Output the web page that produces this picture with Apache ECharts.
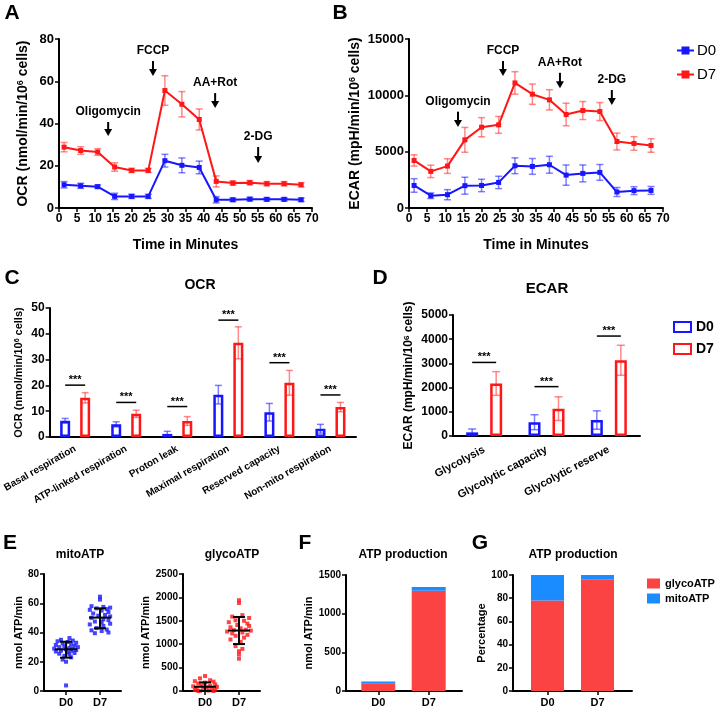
<!DOCTYPE html>
<html><head><meta charset="utf-8">
<script src="https://cdn.jsdelivr.net/npm/echarts@6/dist/echarts.min.js"></script>
<style>html,body{margin:0;padding:0;background:#fff}#c{width:721px;height:708px}</style>
</head><body><div id="c"></div>
<script>
const FONT = '"Liberation Sans", Arial, sans-serif';
// ---- Panel A (OCR time course) ----
const timesA = [1.4,6.0,10.7,15.4,20.1,24.7,29.3,34.0,38.8,43.5,48.1,52.8,57.5,62.3,67.0];
const ocrD0 = [11.0,10.5,10.1,5.5,5.5,5.5,22.4,20.2,19.2,3.9,3.9,4.2,4.1,4.1,3.9];
const ocrD0err = [1.5,1.2,0.8,1.5,1.0,1.0,3.0,3.5,3.0,1.5,0.8,0.8,0.8,0.8,0.8];
const ocrD7 = [28.8,27.2,26.5,19.4,17.8,17.8,55.6,49.1,41.9,12.6,11.8,12.0,11.5,11.5,11.0];
const ocrD7err = [2.2,1.8,1.6,2.0,1.0,1.0,7.0,6.0,5.0,2.6,1.0,1.0,1.0,1.0,1.0];
// ---- Panel B (ECAR time course) ----
const timesB = [1.4,6.0,10.6,15.4,20.0,24.7,29.2,34.0,38.7,43.3,47.9,52.6,57.3,62.0,66.7];
const ecarD0 = [2000,1090,1180,1980,2000,2270,3750,3690,3840,2920,3070,3160,1420,1540,1560];
const ecarD0err = [600,250,450,750,550,550,700,700,750,900,750,700,400,350,350];
const ecarD7 = [4220,3250,3720,6050,7170,7380,11100,10100,9600,8300,8650,8560,5900,5730,5550];
const ecarD7err = [500,550,650,1100,850,750,1000,900,900,1000,800,800,750,600,600];
// injections
const injectNames = ['Oligomycin','FCCP','AA+Rot','2-DG'];
const injectA_x = [13.6,26.0,43.2,55.1];
const injectA_top = [40.7,69.6,54.4,28.9];
const injectA_tip = [34.1,62.5,47.3,21.3];
const injectB_x = [13.5,25.9,41.6,55.9];
const injectB_top = [8550,13050,12000,10470];
const injectB_tip = [7190,11720,10620,9140];
// ---- Panel C ----
const ocrCats = ['Basal respiration','ATP-linked respiration','Proton leak','Maximal respiration','Reserved capacity','Non-mito respiration'];
const ocrBarD0 = [6.3,4.9,1.2,16.4,9.6,3.2];
const ocrBarD0err = [0.9,1.0,1.0,3.6,3.4,1.7];
const ocrBarD7 = [15.2,9.0,6.2,36.5,21.0,11.6];
const ocrBarD7err = [2.0,1.4,1.7,6.2,4.8,1.8];
const ocrSig = [20.1,13.4,11.8,45.3,28.8,16.3];
// ---- Panel D ----
const ecarCats = ['Glycolysis','Glycolytic capacity','Glycolytic reserve'];
const ecarBarD0 = [150,570,660];
const ecarBarD0err = [140,310,380];
const ecarBarD7 = [2170,1130,3130];
const ecarBarD7err = [490,490,620];
const ecarSig = [3040,2040,4130];
// ---- Panel E ----
const groups = ['D0','D7'];
const mitoD0 = [36.2,35.0,34.5,34.0,33.5,33.0,32.5,32.0,31.5,31.0,30.5,30.0,30.0,29.5,29.0,29.0,28.5,28.0,27.5,27.5,27.0,26.5,26.0,25.5,25.0,24.0,23.0,21.5,20.0,3.8];
const mitoD0jit = [0.1,-0.15,0.2,-0.25,0.05,0.3,-0.1,0.15,-0.3,0.25,-0.05,0.35,-0.2,0.1,-0.35,0.2,0.0,0.3,-0.15,0.15,-0.3,0.05,0.25,-0.2,0.1,-0.05,0.15,-0.1,0.0,0.0];
const mitoD7 = [64.5,62.5,58.0,57.5,57.0,56.5,56.0,55.5,55.0,54.0,53.0,52.0,51.5,51.0,50.0,49.0,48.5,47.5,47.0,46.0,45.5,44.5,43.0,42.0,41.5,41.0,40.0,39.5];
const mitoD7jit = [0.0,0.0,-0.25,0.1,0.3,-0.1,0.2,-0.3,0.05,0.25,-0.2,0.15,-0.05,0.3,-0.25,0.1,0.25,-0.15,0.05,0.3,-0.3,0.1,-0.1,0.2,-0.25,0.05,0.25,-0.15];
const mitoMean = [28.5,50.2], mitoLo = [22.8,42.9], mitoHi = [33.7,56.5];
const glycoD0 = [320,270,230,210,200,180,160,140,120,110,100,90,75,60,50,40,30,20,10,5,0,0];
const glycoD0jit = [0.0,-0.15,0.15,-0.3,0.25,0.0,-0.2,0.3,-0.1,0.15,-0.35,0.35,0.05,-0.25,0.2,-0.05,0.3,-0.3,0.1,-0.15,0.25,-0.2];
const glycoD7 = [1940,1880,1620,1590,1560,1510,1500,1470,1440,1410,1390,1360,1340,1310,1300,1290,1270,1250,1230,1200,1180,1140,1100,1050,960,900,850,780,690];
const glycoD7jit = [0.0,0.0,0.1,-0.2,0.3,-0.1,0.15,-0.3,0.25,-0.05,0.3,-0.25,0.05,0.2,-0.15,0.35,-0.35,0.1,-0.2,0.25,-0.1,0.15,-0.25,0.05,-0.1,0.1,0.0,0.0,0.0];
const glycoMean = [91,1292], glycoLo = [0,1003], glycoHi = [184,1582];
// ---- Panel F / G ----
const atpGlyco = [95,1295], atpMito = [29,51];
const pctGlyco = [78,96], pctMito = [22,4];

const BLUE='#1616ff', RED='#ff1616', BLUE_E='rgba(22,22,255,0.55)', RED_E='rgba(255,22,22,0.5)';
const F_RED='#fc4343', F_BLUE='#1a8cff';
const AX = {color:'#000', width:2};

function vAxis(grid, min, max, interval, fs, extra){
  return Object.assign({type:'value', gridIndex:grid, min:min, max:max, interval:interval,
    axisLine:{show:true, onZero:false, lineStyle:AX},
    axisTick:{show:true, length:4, lineStyle:{color:'#000', width:1.5}},
    axisLabel:{color:'#000', fontWeight:'bold', fontFamily:FONT, fontSize:fs, margin:5, formatter:v=>String(v)},
    splitLine:{show:false}}, extra||{});
}
function dAxis(grid, min, max){
  return {type:'value', gridIndex:grid, min:min, max:max,
    axisLine:{show:true, onZero:false, lineStyle:AX},
    axisTick:{show:true, length:4, customValues:[0,1], lineStyle:{color:'#000', width:1.5}},
    axisLabel:{customValues:[0,1], formatter:v=>groups[Math.round(v)], color:'#000', fontWeight:'bold', fontFamily:FONT, fontSize:11, margin:6},
    splitLine:{show:false}};
}
function yName(text, gap, fs){
  return {name:text, nameLocation:'middle', nameRotate:90, nameGap:gap,
    nameTextStyle:{color:'#000', fontWeight:'bold', fontFamily:FONT, fontSize:fs,
      rich:{s:{fontSize:Math.round(fs*0.65), fontWeight:'bold', fontFamily:FONT, color:'#000', verticalAlign:'top'}}}};
}
function errRender(offset, cap, color, lw){
  return (params, api) => {
    const a = api.coord([api.value(0), api.value(2)]);
    const b = api.coord([api.value(0), api.value(1)]);
    const x = a[0] + offset;
    const st = {stroke:color, lineWidth:lw};
    return {type:'group', children:[
      {type:'line', shape:{x1:x,y1:a[1],x2:x,y2:b[1]}, style:st},
      {type:'line', shape:{x1:x-cap,y1:a[1],x2:x+cap,y2:a[1]}, style:st},
      {type:'line', shape:{x1:x-cap,y1:b[1],x2:x+cap,y2:b[1]}, style:st}
    ]};
  };
}
function sigRender(half){
  return (params, api) => {
    const p = api.coord([api.value(0), api.value(1)]);
    return {type:'group', children:[
      {type:'line', shape:{x1:p[0]-half,y1:p[1],x2:p[0]+half,y2:p[1]}, style:{stroke:'#000', lineWidth:1.5}},
      {type:'text', style:{x:p[0], y:p[1]-5, text:'***', align:'center', verticalAlign:'middle', fontSize:11, fontWeight:'bold', fontFamily:FONT, fill:'#000'}}
    ]};
  };
}
function arrowRender(names){
  return (params, api) => {
    const x = api.value(0);
    const t = api.coord([x, api.value(1)]), b = api.coord([x, api.value(2)]);
    const px = t[0];
    return {type:'group', children:[
      {type:'line', shape:{x1:px,y1:t[1],x2:px,y2:b[1]-6}, style:{stroke:'#000', lineWidth:2}},
      {type:'polygon', shape:{points:[[px-4,b[1]-7],[px+4,b[1]-7],[px,b[1]]]}, style:{fill:'#000'}},
      {type:'text', style:{x:px, y:t[1]-4, text:names[params.dataIndex], align:'center', verticalAlign:'bottom', fontSize:12, fontWeight:'bold', fontFamily:FONT, fill:'#000'}}
    ]};
  };
}
function msdRender(params, api){
  const x = api.value(0);
  const m = api.coord([x, api.value(1)]), lo = api.coord([x, api.value(2)]), hi = api.coord([x, api.value(3)]);
  const st = {stroke:'#000', lineWidth:2};
  return {type:'group', children:[
    {type:'line', shape:{x1:m[0]-11,y1:m[1],x2:m[0]+11,y2:m[1]}, style:st},
    {type:'line', shape:{x1:m[0],y1:hi[1],x2:m[0],y2:lo[1]}, style:st},
    {type:'line', shape:{x1:m[0]-6,y1:hi[1],x2:m[0]+6,y2:hi[1]}, style:st},
    {type:'line', shape:{x1:m[0]-6,y1:lo[1],x2:m[0]+6,y2:lo[1]}, style:st}
  ]};
}
function stackRender(w, color){
  return (params, api) => {
    const a = api.coord([api.value(0), api.value(2)]);
    const b = api.coord([api.value(0), api.value(1)]);
    return {type:'rect', shape:{x:a[0]-w/2, y:a[1], width:w, height:b[1]-a[1]}, style:{fill:color}};
  };
}
const errData = (xs,m,e) => xs.map((x,i)=>[x, m[i]-e[i], m[i]+e[i]]);
const catErr = (m,e) => m.map((v,i)=>[i, v-e[i], v+e[i]]);
const pts = (g, vals, jit) => vals.map((v,i)=>[g + jit[i], v]);
function custom(xi, data, render, z){
  return {type:'custom', xAxisIndex:xi, yAxisIndex:xi, data:data, renderItem:render, silent:true, z:z||3, encode:{x:0, y:[1,2]}};
}
function stackSeries(name, xi, base, vals, w, color){
  return {name:name, type:'custom', xAxisIndex:xi, yAxisIndex:xi, itemStyle:{color:color},
    data:vals.map((v,i)=>[i, base ? base[i] : 0, (base ? base[i] : 0) + v]),
    renderItem:stackRender(w, color), silent:true, encode:{x:0, y:[1,2]}};
}

const option = {
  animation:false,
  backgroundColor:'#fff',
  textStyle:{fontFamily:FONT},
  grid:[
    {left:59, top:39, width:253, height:169},
    {left:409, top:39, width:254, height:169},
    {left:47, top:308, width:309, height:129},
    {left:453, top:315, width:187, height:121},
    {left:44, top:574, width:77, height:118},
    {left:183, top:574, width:77, height:118},
    {left:346, top:575, width:116, height:117},
    {left:513, top:575, width:119, height:117}
  ],
  xAxis:[
    vAxis(0, 0, 70, 5, 12, {name:'Time in Minutes', nameLocation:'middle', nameGap:30, nameTextStyle:{color:'#000', fontWeight:'bold', fontFamily:FONT, fontSize:14}}),
    vAxis(1, 0, 70, 5, 12, {name:'Time in Minutes', nameLocation:'middle', nameGap:30, nameTextStyle:{color:'#000', fontWeight:'bold', fontFamily:FONT, fontSize:14}}),
    {type:'category', gridIndex:2, data:ocrCats, axisLine:{show:true, onZero:false, lineStyle:AX}, axisTick:{show:false},
      axisLabel:{rotate:30, interval:0, color:'#000', fontWeight:'bold', fontFamily:FONT, fontSize:10, margin:11}},
    {type:'category', gridIndex:3, data:ecarCats, axisLine:{show:true, onZero:false, lineStyle:AX}, axisTick:{show:false},
      axisLabel:{rotate:28, interval:0, color:'#000', fontWeight:'bold', fontFamily:FONT, fontSize:11, margin:13}},
    dAxis(4, -0.65, 1.62),
    dAxis(5, -0.65, 1.62),
    dAxis(6, -0.64, 1.66),
    dAxis(7, -0.69, 1.69)
  ],
  yAxis:[
    vAxis(0, 0, 80, 20, 13, yName('OCR (nmol/min/10{s|6} cells)', 29, 14)),
    vAxis(1, 0, 15000, 5000, 13, yName('ECAR (mpH/min/10{s|6} cells)', 47, 14)),
    vAxis(2, 0, 50, 10, 12, yName('OCR (nmol/min/10{s|6} cells)', 25, 11)),
    vAxis(3, 0, 5000, 1000, 12, yName('ECAR (mpH/min/10{s|6} cells)', 38, 12)),
    vAxis(4, 0, 80, 20, 10, yName('nmol ATP/min', 20, 11)),
    vAxis(5, 0, 2500, 500, 10, yName('nmol ATP/min', 30, 11)),
    vAxis(6, 0, 1500, 500, 10, yName('nmol ATP/min', 32, 11)),
    vAxis(7, 0, 100, 20, 10, yName('Percentage', 24, 11))
  ],
  legend:[
    {data:['D0','D7'], left:676, top:43, padding:0, orient:'vertical', itemWidth:17, itemHeight:10, itemGap:9, selectedMode:false,
      textStyle:{fontSize:15, fontFamily:FONT, color:'#000', padding:[0,0,0,-2]}},
    {data:['D0 ','D7 '], left:673, top:320, padding:0, orient:'vertical', itemWidth:17, itemHeight:10, itemGap:8, selectedMode:false, icon:'rect',
      formatter:n=>n.trim(), textStyle:{fontSize:14, fontWeight:'bold', fontFamily:FONT, color:'#000'}},
    {data:['glycoATP','mitoATP'], left:647, top:578, padding:0, orient:'vertical', itemWidth:13, itemHeight:10, itemGap:4, selectedMode:false, icon:'rect',
      textStyle:{fontSize:11, fontWeight:'bold', fontFamily:FONT, color:'#000'}}
  ],
  graphic:[
    ['A',12,13,21],['B',340,13,21],['C',12,278,21],['D',380,278,21],['E',10,543,21],['F',305,543,21],['G',480,543,21],
    ['OCR',200,285,14],['ECAR',547,289,15],['mitoATP',80,555,12],['glycoATP',232,555,12],['ATP production',403,555,12],['ATP production',573,555,12]
  ].map(t=>({type:'text', x:t[1], y:t[2], style:{text:t[0], align:'center', verticalAlign:'middle', fontSize:t[3], fontWeight:'bold', fontFamily:FONT, fill:'#000'}})),
  series:[
    // A
    {name:'D0', type:'line', xAxisIndex:0, yAxisIndex:0, data:timesA.map((t,i)=>[t, ocrD0[i]]), symbol:'rect', symbolSize:5, color:BLUE, lineStyle:{width:2}, z:4},
    {name:'D7', type:'line', xAxisIndex:0, yAxisIndex:0, data:timesA.map((t,i)=>[t, ocrD7[i]]), symbol:'rect', symbolSize:5, color:RED, lineStyle:{width:2}, z:4},
    custom(0, errData(timesA, ocrD0, ocrD0err), errRender(0, 3.5, BLUE_E, 1.5)),
    custom(0, errData(timesA, ocrD7, ocrD7err), errRender(0, 3.5, RED_E, 1.5)),
    custom(0, injectA_x.map((x,i)=>[x, injectA_top[i], injectA_tip[i]]), arrowRender(injectNames)),
    // B
    {name:'D0', type:'line', xAxisIndex:1, yAxisIndex:1, data:timesB.map((t,i)=>[t, ecarD0[i]]), symbol:'rect', symbolSize:5, color:BLUE, lineStyle:{width:2}, z:4},
    {name:'D7', type:'line', xAxisIndex:1, yAxisIndex:1, data:timesB.map((t,i)=>[t, ecarD7[i]]), symbol:'rect', symbolSize:5, color:RED, lineStyle:{width:2}, z:4},
    custom(1, errData(timesB, ecarD0, ecarD0err), errRender(0, 3.5, BLUE_E, 1.5)),
    custom(1, errData(timesB, ecarD7, ecarD7err), errRender(0, 3.5, RED_E, 1.5)),
    custom(1, injectB_x.map((x,i)=>[x, injectB_top[i], injectB_tip[i]]), arrowRender(injectNames)),
    // C
    {name:'D0 ', type:'bar', xAxisIndex:2, yAxisIndex:2, data:ocrBarD0, barWidth:10, barGap:'100%', itemStyle:{color:'#fff', borderColor:BLUE, borderWidth:2.5}},
    {name:'D7 ', type:'bar', xAxisIndex:2, yAxisIndex:2, data:ocrBarD7, barWidth:10, barGap:'100%', itemStyle:{color:'#fff', borderColor:RED, borderWidth:2.5}},
    custom(2, catErr(ocrBarD0, ocrBarD0err), errRender(-10, 3.5, BLUE_E, 1.5)),
    custom(2, catErr(ocrBarD7, ocrBarD7err), errRender(10, 3.5, RED_E, 1.5)),
    custom(2, ocrSig.map((v,i)=>[i, v]), sigRender(10)),
    // D
    {name:'D0 ', type:'bar', xAxisIndex:3, yAxisIndex:3, data:ecarBarD0, barWidth:12, barGap:'100%', itemStyle:{color:'#fff', borderColor:BLUE, borderWidth:2.5}},
    {name:'D7 ', type:'bar', xAxisIndex:3, yAxisIndex:3, data:ecarBarD7, barWidth:12, barGap:'100%', itemStyle:{color:'#fff', borderColor:RED, borderWidth:2.5}},
    custom(3, catErr(ecarBarD0, ecarBarD0err), errRender(-12, 4, BLUE_E, 1.5)),
    custom(3, catErr(ecarBarD7, ecarBarD7err), errRender(12, 4, RED_E, 1.5)),
    custom(3, ecarSig.map((v,i)=>[i, v]), sigRender(12)),
    // E
    {name:'mitoATP D0', type:'scatter', xAxisIndex:4, yAxisIndex:4, data:pts(0, mitoD0, mitoD0jit), symbol:'rect', symbolSize:4, color:BLUE},
    {name:'mitoATP D7', type:'scatter', xAxisIndex:4, yAxisIndex:4, data:pts(1, mitoD7, mitoD7jit), symbol:'rect', symbolSize:4, color:BLUE},
    custom(4, mitoMean.map((m,i)=>[i, m, mitoLo[i], mitoHi[i]]), msdRender, 5),
    {name:'glycoATP D0', type:'scatter', xAxisIndex:5, yAxisIndex:5, data:pts(0, glycoD0, glycoD0jit), symbol:'rect', symbolSize:4, color:RED},
    {name:'glycoATP D7', type:'scatter', xAxisIndex:5, yAxisIndex:5, data:pts(1, glycoD7, glycoD7jit), symbol:'rect', symbolSize:4, color:RED},
    custom(5, glycoMean.map((m,i)=>[i, m, glycoLo[i], glycoHi[i]]), msdRender, 5),
    // F
    stackSeries('glycoATP', 6, null, atpGlyco, 34, F_RED),
    stackSeries('mitoATP', 6, atpGlyco, atpMito, 34, F_BLUE),
    // G
    stackSeries('glycoATP', 7, null, pctGlyco, 33, F_RED),
    stackSeries('mitoATP', 7, pctGlyco, pctMito, 33, F_BLUE)
  ]
};
const chart = echarts.init(document.getElementById('c'), null, {renderer:'canvas', width:721, height:708});
chart.setOption(option);
</script>
</body></html>
